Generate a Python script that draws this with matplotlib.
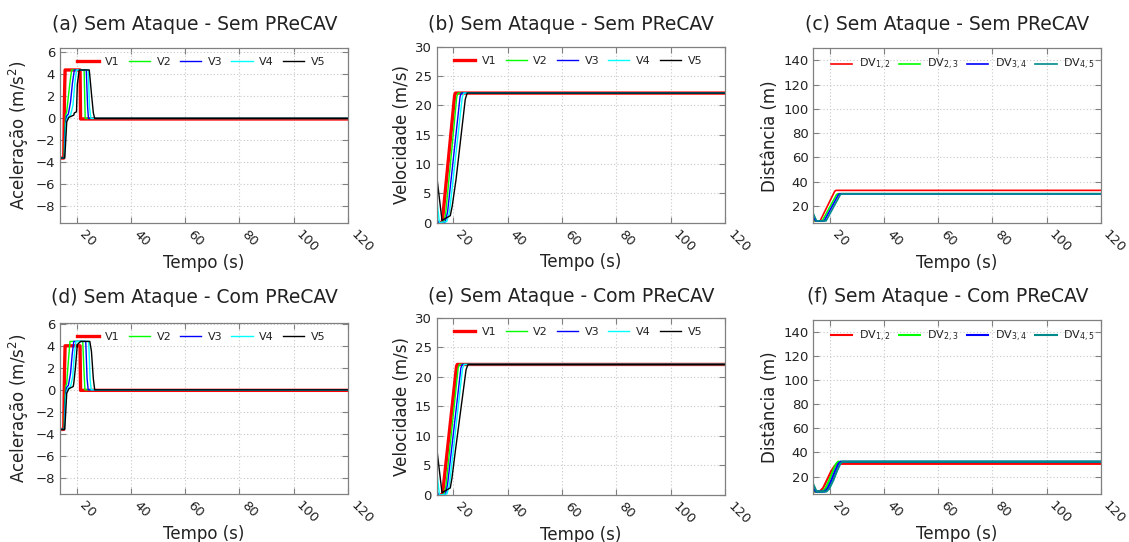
"""
sem ataque: aceleracao, velocidade e distancia do pelotao (sem / com PReCAV)
"""

import matplotlib.pyplot as plt

# ── aceleracao (a) sem PReCAV: tempos e valores por veiculo ──────────
acc_a_t = [
    [13.9, 15.3, 15.4, 15.6, 15.8, 21.3, 21.5, 120],
    [13.9, 15.4, 15.7, 16.0, 16.4, 17.0, 17.6, 18.2, 22.8, 23.2, 120],
    [13.9, 15.5, 15.9, 16.3, 17.0, 17.8, 18.5, 19.2, 23.6, 24.1, 24.4, 120],
    [13.9, 15.6, 16.1, 16.7, 17.8, 18.7, 19.4, 20.0, 24.3, 24.8, 25.3, 120],
    [13.9, 15.6, 15.9, 16.4, 17.2, 19.0, 19.2, 20.0, 20.3, 21.0, 24.7, 25.6, 26.2, 26.7, 120],
]
acc_a_v = [
    [-3.6, -3.6, -1.6, 2.3, 4.4, 4.4, -0.05, -0.05],
    [-3.6, -3.6, -1.0, 0.3, 0.6, 2.0, 3.3, 4.4, 4.4, 0.0, 0.0],
    [-3.6, -3.6, -0.8, 0.2, 0.4, 1.5, 3.2, 4.4, 4.4, 1.0, 0.0, 0.0],
    [-3.6, -3.6, -0.5, 0.1, 0.3, 1.2, 3.2, 4.4, 4.4, 1.0, 0.0, 0.0],
    [-3.6, -3.6, -2.6, -0.3, 0.1, 0.3, 0.5, 0.6, 3.1, 4.4, 4.4, 2.0, 0.5, 0.0, 0.0],
]

# ── aceleracao (d) com PReCAV ─────────────────────────────────────────
acc_d_t = [
    [13.9, 15.3, 15.4, 15.6, 15.8, 21.3, 21.5, 120],
    [13.9, 15.4, 15.7, 16.0, 16.4, 16.9, 17.6, 22.3, 22.7, 23.1, 120],
    [13.9, 15.5, 15.9, 16.3, 17.0, 17.8, 18.4, 19.0, 23.4, 23.9, 24.3, 120],
    [13.9, 15.6, 16.1, 16.7, 17.8, 18.6, 19.2, 19.8, 24.5, 25.0, 25.4, 120],
    [13.9, 15.6, 15.9, 16.4, 17.2, 18.8, 19.0, 19.6, 20.3, 21.5, 24.9, 25.5, 26.2, 26.7, 120],
]
acc_d_v = [
    [-3.6, -3.6, -1.6, 2.0, 4.0, 4.0, -0.05, -0.05],
    [-3.6, -3.6, -1.0, 0.3, 0.6, 2.3, 4.4, 4.4, 2.0, 0.0, 0.0],
    [-3.6, -3.6, -0.8, 0.2, 0.4, 1.5, 3.2, 4.4, 4.4, 1.0, 0.0, 0.0],
    [-3.6, -3.6, -0.5, 0.1, 0.3, 1.2, 3.2, 4.4, 4.4, 1.0, 0.0, 0.0],
    [-3.6, -3.6, -2.6, -0.3, 0.1, 0.3, 0.6, 2.0, 4.1, 4.4, 4.4, 3.5, 1.0, 0.0, 0.0],
]

# ── velocidade (b) sem PReCAV ─────────────────────────────────────────
vel_b_t = [
    [13.9, 15.8, 16.0, 20.5, 20.8, 120],
    [13.9, 14.5, 16.5, 17.2, 21.3, 21.8, 120],
    [13.9, 14.5, 17.0, 17.9, 22.5, 23.0, 120],
    [13.9, 14.9, 17.6, 18.6, 23.3, 23.9, 120],
    [13.9, 15.85, 17.0, 18.9, 19.6, 21.0, 24.4, 25.1, 120],
]
vel_b_v = [
    [0.0, 0.0, 0.3, 21.7, 22.1, 22.1],
    [0.3, 0.0, 0.1, 1.5, 21.5, 22.1, 22.1],
    [1.0, 0.0, 0.1, 1.8, 21.5, 22.1, 22.1],
    [4.2, 0.0, 0.2, 1.8, 21.4, 22.1, 22.1],
    [8.0, 0.4, 0.7, 1.2, 2.8, 7.3, 21.0, 22.1, 22.1],
]

# ── velocidade (e) com PReCAV ─────────────────────────────────────────
vel_e_t = [
    [13.9, 15.9, 16.1, 21.2, 21.5, 120],
    [13.9, 14.5, 16.6, 17.3, 21.8, 22.3, 120],
    [13.9, 14.5, 17.1, 17.9, 22.8, 23.3, 120],
    [13.9, 14.9, 17.7, 18.6, 23.4, 24.0, 120],
    [13.9, 15.85, 17.0, 18.9, 19.5, 20.75, 24.7, 25.4, 120],
]
vel_e_v = [
    [0.0, 0.0, 0.3, 21.8, 22.1, 22.1],
    [0.3, 0.0, 0.1, 1.5, 21.5, 22.1, 22.1],
    [1.0, 0.0, 0.1, 1.8, 21.5, 22.1, 22.1],
    [4.2, 0.0, 0.2, 1.8, 21.4, 22.1, 22.1],
    [8.0, 0.4, 0.7, 1.2, 2.8, 7.4, 21.2, 22.1, 22.1],
]

# ── distancia (c) sem PReCAV ──────────────────────────────────────────
dist_c_t = [
    [13.9, 16.4, 21.8, 22.3, 120],
    [13.9, 14.6, 17.2, 22.5, 23.0, 120],
    [13.9, 14.8, 17.9, 23.2, 23.7, 120],
    [13.9, 15.1, 18.6, 23.9, 24.4, 120],
]
dist_c_v = [
    [7.5, 7.5, 32.0, 32.7, 32.7],
    [8.0, 7.5, 7.5, 29.3, 29.9, 29.9],
    [10.5, 7.5, 7.5, 29.3, 29.9, 29.9],
    [13.5, 7.5, 7.5, 29.3, 29.9, 29.9],
]

# ── distancia (f) com PReCAV ──────────────────────────────────────────
dist_f_t = [
    [13.9, 16.2, 17.5, 19.0, 20.5, 21.8, 22.8, 120],
    [13.9, 14.6, 17.2, 18.3, 19.8, 21.2, 22.3, 23.0, 120],
    [13.9, 14.8, 18.0, 19.1, 20.6, 22.0, 23.2, 24.0, 120],
    [13.9, 15.1, 18.7, 19.8, 21.3, 22.7, 23.9, 24.7, 120],
]
dist_f_v = [
    [7.5, 7.5, 10.5, 17.5, 24.5, 29.0, 30.5, 30.5],
    [8.0, 7.5, 7.5, 10.0, 17.0, 25.0, 30.5, 32.3, 32.3],
    [10.5, 7.5, 7.5, 10.0, 17.0, 25.0, 30.8, 32.3, 32.3],
    [13.5, 7.5, 7.5, 10.0, 17.0, 25.0, 30.8, 32.3, 32.3],
]

veh_labels = ["V1", "V2", "V3", "V4", "V5"]
veh_colors = ["#ff0000", "#00ff00", "#0000ff", "#00ffff", "#000000"]
veh_widths = [2.4, 1.0, 1.0, 1.0, 1.0]
dv_labels = [r"DV$_{1,2}$", r"DV$_{2,3}$", r"DV$_{3,4}$", r"DV$_{4,5}$"]
dv_colors = ["#ff0000", "#00ff00", "#0000ff", "#008b8b"]

x_ticks = [20, 40, 60, 80, 100, 120]


def style_ax(ax, title, ylabel, ylim, yticks, tpad):
    ax.set_xlim(13.9, 120)
    ax.set_ylim(*ylim)
    ax.set_xticks(x_ticks)
    ax.set_yticks(yticks)
    ax.grid(True, color="#c8c8c8", ls=(0, (1, 2)), lw=0.8)
    ax.set_axisbelow(True)
    for sp in ax.spines.values():
        sp.set_color("#808080")
        sp.set_linewidth(0.9)
    ax.tick_params(direction="in", top=True, right=True, length=4,
                   color="#808080", labelsize=9.5, labelcolor="#222222")
    for lab in ax.get_xticklabels():
        lab.set_rotation(-45)
        lab.set_ha("left")
        lab.set_va("top")
    # gnuplot centres the title a little left of the plot area
    ax.set_title(title, fontsize=13.5, pad=tpad, color="#222222", x=0.467)
    ax.set_xlabel("Tempo (s)", fontsize=12, labelpad=-1, color="#222222")
    ax.set_ylabel(ylabel, fontsize=12, labelpad=3, color="#222222")


def draw_panel(ax, ts, vs, labels, colors, widths):
    for t, v, lab, col, lw in zip(ts, vs, labels, colors, widths):
        ax.plot(t, v, color=col, lw=lw, label=lab)
    ax.legend(loc="upper left", bbox_to_anchor=(0.03, 1.0), ncol=len(labels),
              frameon=False, fontsize=8, handlelength=1.9, handletextpad=0.6,
              columnspacing=0.8, borderaxespad=0.4, labelcolor="#222222")


def main():
    fig = plt.figure(figsize=(11.29, 5.42), dpi=100)

    ax_a = fig.add_axes([0.0531, 0.5886, 0.2551, 0.3229])
    ax_b = fig.add_axes([0.3868, 0.5891, 0.2554, 0.3247])
    ax_c = fig.add_axes([0.7204, 0.5880, 0.2546, 0.3229])
    ax_d = fig.add_axes([0.0531, 0.0880, 0.2551, 0.3166])
    ax_e = fig.add_axes([0.3868, 0.0867, 0.2554, 0.3270])
    ax_f = fig.add_axes([0.7204, 0.0886, 0.2546, 0.3210])

    acc_ticks = [6, 4, 2, 0, -2, -4, -6, -8]
    vel_ticks = [0, 5, 10, 15, 20, 25, 30]
    dist_ticks = [20, 40, 60, 80, 100, 120, 140]
    acc_lab = r"Aceleração (m/s$^2$)"

    draw_panel(ax_a, acc_a_t, acc_a_v, veh_labels, veh_colors, veh_widths)
    style_ax(ax_a, "(a) Sem Ataque - Sem PReCAV", acc_lab, (-9.5, 6.4), acc_ticks, 13)

    draw_panel(ax_b, vel_b_t, vel_b_v, veh_labels, veh_colors, veh_widths)
    style_ax(ax_b, "(b) Sem Ataque - Sem PReCAV", "Velocidade (m/s)", (0, 30), vel_ticks, 12)

    draw_panel(ax_c, dist_c_t, dist_c_v, dv_labels, dv_colors, [1.2] * 4)
    style_ax(ax_c, "(c) Sem Ataque - Sem PReCAV", "Distância (m)", (5.5, 150), dist_ticks, 13)

    draw_panel(ax_d, acc_d_t, acc_d_v, veh_labels, veh_colors, veh_widths)
    style_ax(ax_d, "(d) Sem Ataque - Com PReCAV", acc_lab, (-9.5, 6.1), acc_ticks, 14)

    draw_panel(ax_e, vel_e_t, vel_e_v, veh_labels, veh_colors, veh_widths)
    style_ax(ax_e, "(e) Sem Ataque - Com PReCAV", "Velocidade (m/s)", (0, 30), vel_ticks, 11)

    draw_panel(ax_f, dist_f_t, dist_f_v, dv_labels, dv_colors, [1.5] * 4)
    style_ax(ax_f, "(f) Sem Ataque - Com PReCAV", "Distância (m)", (5.5, 150), dist_ticks, 13)

    fig.savefig("out.png", dpi=100)
    plt.close(fig)


if __name__ == "__main__":
    main()
